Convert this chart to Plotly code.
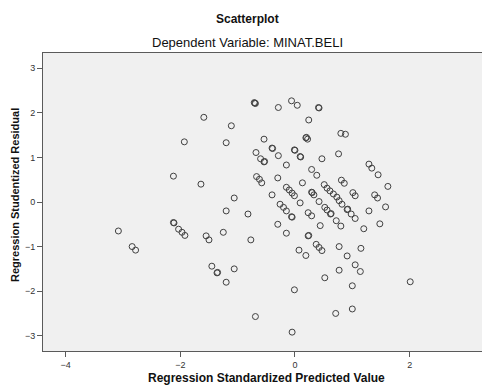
import plotly.graph_objects as go

title_main = "Scatterplot"
title_sub = "Dependent Variable: MINAT.BELI"
x_title = "Regression Standardized Predicted Value"
y_title = "Regression Studentized Residual"

x_ticks = [-4, -2, 0, 2]
y_ticks = [-3, -2, -1, 0, 1, 2, 3]

pred_x = [
    -3.08, -2.84, -2.78, -2.12, -2.11, -2.03, -1.97, -1.92, -1.93, -2.12,
    -1.59, -1.11, -1.20, -1.64, -1.06, -1.20, -0.82, -1.25, -1.55, -1.50,
    -0.77, -1.45, -1.36, -1.35, -1.06, -1.20, -0.69, -0.70, -0.69, -0.71,
    -0.29, -0.06, 0.04, 0.42, 0.41, 0.24, -0.54, 0.19, 0.20, 0.22,
    -0.68, -0.40, -0.39, -0.29, -0.60, -0.54, -0.53, -0.15, -0.01, 0.00,
    0.09, 0.10, 0.47, 0.76, 0.80, 0.88, 0.29, 0.38, 0.13, -0.67,
    -0.62, -0.58, -0.30, -0.40, -0.15, -0.10, -0.05, -0.01, -0.26, -0.20,
    -0.15, -0.06, -0.05, -0.30, -0.15, 0.07, -0.01, -0.05, 0.09, 0.42,
    0.52, 0.56, 0.62, 0.63, 0.51, 0.56, 0.61, 0.67, 0.73, 0.77,
    0.82, 0.91, 0.92, 0.98, 1.05, 0.29, 0.30, 0.33, 0.81, 0.86,
    1.01, 1.05, 1.29, 1.34, 1.45, 1.62, 1.39, 1.44, 1.58, 1.29,
    1.48, 0.23, 0.29, 0.44, 0.72, 0.80, 1.20, 0.23, 0.24, 0.37,
    0.42, 0.47, 0.19, 0.77, 0.91, 1.15, 1.05, 1.14, 0.77, 0.52,
    1.00, 2.01, 1.00, 0.71,
]
resid_y = [
    -0.65, -1.00, -1.08, -0.46, -0.47, -0.61, -0.68, -0.75, 1.35, 0.58,
    1.90, 1.71, 1.33, 0.40, 0.09, -0.20, -0.27, -0.68, -0.76, -0.85,
    -0.85, -1.44, -1.59, -1.58, -1.50, -1.80, -2.57, 2.22, 2.21, 2.23,
    2.12, 2.27, 2.17, 2.11, 2.12, 1.84, 1.41, 1.44, 1.45, 1.41,
    1.11, 1.21, 1.20, 1.04, 0.97, 0.90, 0.91, 0.83, 1.17, 1.16,
    1.02, 1.01, 0.97, 1.08, 1.54, 1.52, 0.73, 0.60, 0.43, 0.57,
    0.51, 0.43, 0.54, 0.16, 0.33, 0.27, 0.20, 0.14, -0.05, -0.12,
    -0.20, -0.33, -0.34, -0.50, -0.70, -1.08, -1.97, -2.92, -0.02, 0.01,
    -0.12, -0.18, -0.27, -0.26, 0.39, 0.31, 0.25, 0.18, 0.11, 0.03,
    -0.05, -0.17, -0.16, -0.27, -0.37, 0.22, 0.21, 0.16, 0.49, 0.42,
    0.21, 0.14, 0.85, 0.76, 0.61, 0.35, 0.16, 0.09, -0.11, -0.20,
    -0.49, -0.24, -0.31, -0.53, -0.42, -0.54, -0.60, -0.76, -0.75, -0.95,
    -1.02, -1.09, -1.20, -1.00, -1.21, -1.04, -1.41, -1.56, -1.53, -1.70,
    -1.88, -1.79, -2.40, -2.50,
]

FONT = "Liberation Sans, Arial, sans-serif"

fig = go.Figure()
fig.add_trace(go.Scatter(
    x=pred_x, y=resid_y, mode="markers",
    marker=dict(symbol="circle-open", size=6, color="#404040",
                line=dict(width=1, color="#404040")),
    hoverinfo="skip", showlegend=False,
))

axis_common = dict(
    showgrid=False, zeroline=False, showline=True, linecolor="#5a5a5a",
    linewidth=1, ticks="outside", ticklen=5, tickwidth=1, tickcolor="#5a5a5a",
    tickfont=dict(family=FONT, size=9, color="#333333"),
)

fig.update_layout(
    width=482, height=385,
    margin=dict(l=43, r=0, t=53, b=34, pad=0),
    paper_bgcolor="white", plot_bgcolor="#f0f0f0",
    font=dict(family=FONT),
    xaxis=dict(range=[-4.395, 3.262], tickvals=x_ticks, mirror=True, **axis_common),
    yaxis=dict(range=[-3.343, 3.343], tickvals=y_ticks, mirror=False, **axis_common),
    annotations=[
        dict(text="<b>" + title_main + "</b>", xref="paper", yref="paper",
             x=0.4647, y=(351 - 19) / 298, xanchor="center", yanchor="middle",
             showarrow=False, font=dict(family=FONT, size=12, color="#111111")),
        dict(text=title_sub, xref="paper", yref="paper",
             x=0.4647, y=(351 - 43) / 298, xanchor="center", yanchor="middle",
             showarrow=False, font=dict(family=FONT, size=13, color="#111111")),
        dict(text="<b>" + x_title + "</b>", xref="paper", yref="paper",
             x=0.5096, y=(351 - 378) / 298, xanchor="center", yanchor="middle",
             showarrow=False, font=dict(family=FONT, size=12, color="#111111")),
        dict(text="<b>" + y_title + "</b>", xref="paper", yref="paper",
             x=(15 - 43) / 439, y=(351 - 195) / 298, xanchor="center", yanchor="middle",
             textangle=-90, showarrow=False,
             font=dict(family=FONT, size=11, color="#111111")),
    ],
)

fig.write_html(
    "out.html",
    config={"displayModeBar": False, "staticPlot": True},
    post_script="document.body.style.margin='0px';document.body.style.overflow='hidden';",
)
